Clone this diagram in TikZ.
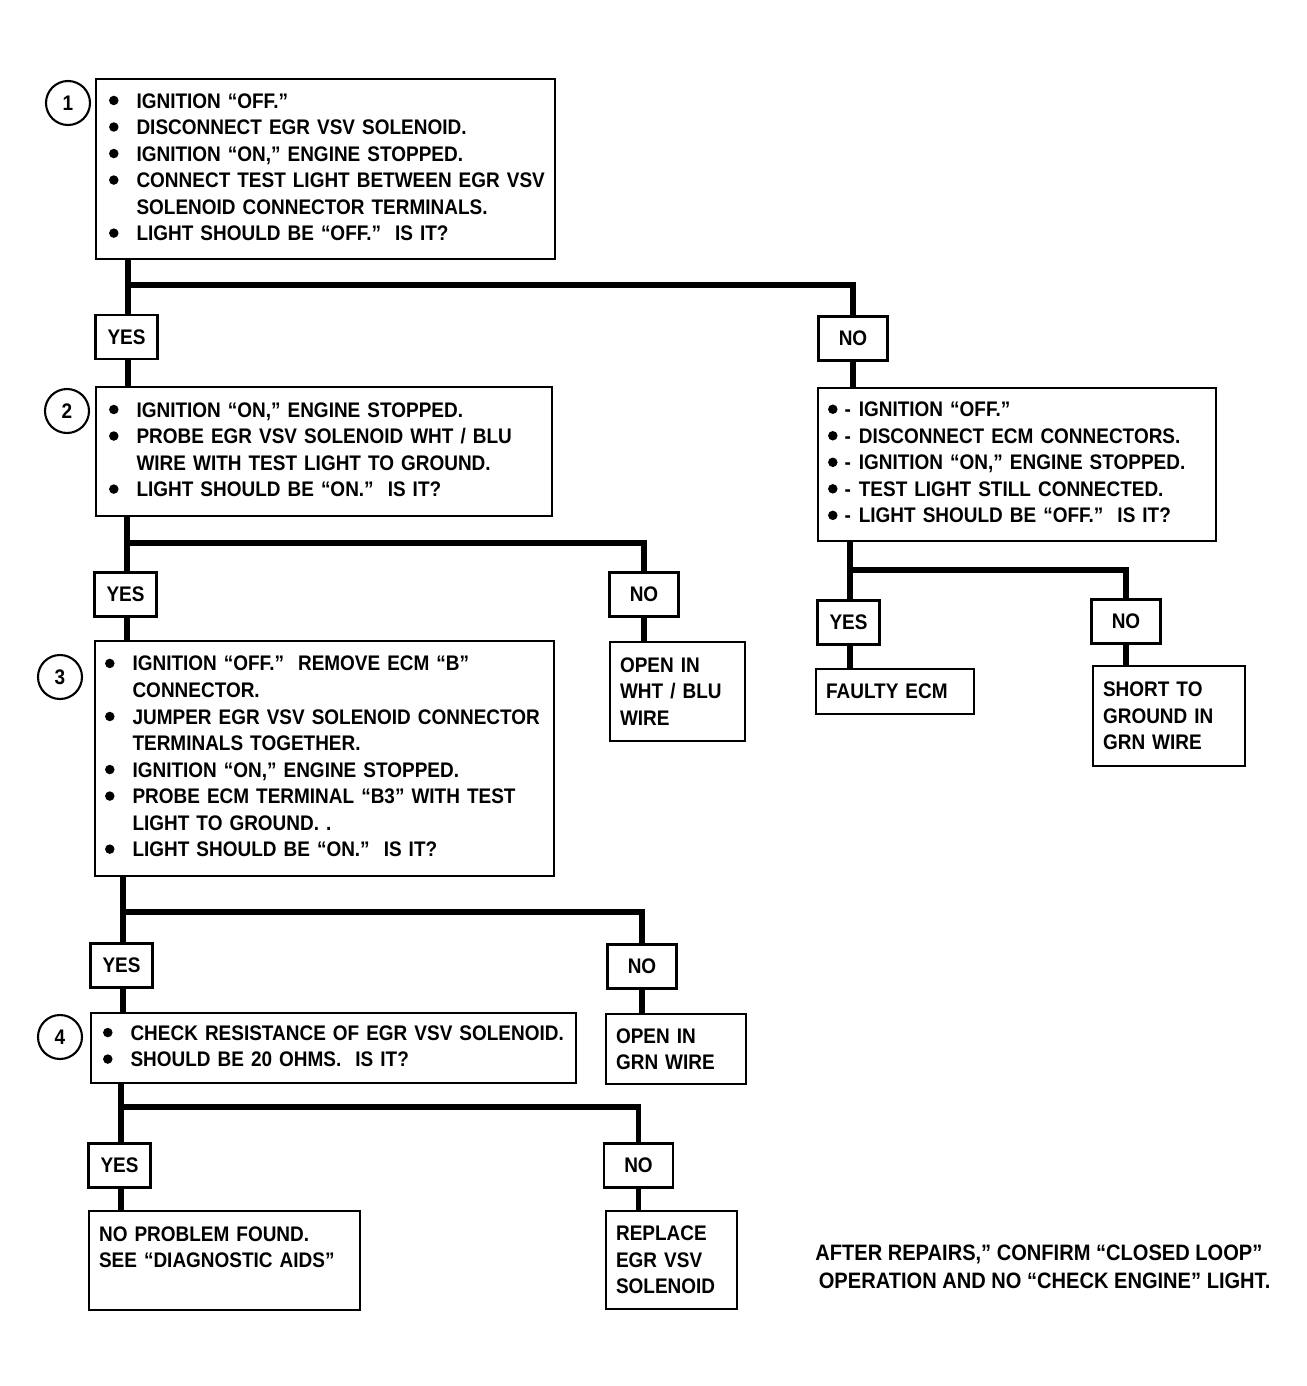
\documentclass[tikz,border=0pt]{standalone}
\usepackage{fontspec}
\setmainfont{Liberation Sans}[FakeStretch=0.9]
\usetikzlibrary{positioning}
\newcommand{\blt}{\tikz[baseline=0pt]\fill (0pt,4.3pt) circle (2.7pt);}

\begin{document}
\begin{tikzpicture}[
    x=0.02cm, y=-0.02cm,
    font=\bfseries\fontsize{12}{15.1}\selectfont,
    stepbox/.style={
		rectangle,
		draw=black,
		line width=1.2pt,
		anchor=north west,
		inner xsep=0.26cm,
		inner ysep=0pt,
		align=left
	},
	resultbox/.style={
		rectangle,
		draw=black,
		line width=1.2pt,
		anchor=north west,
		inner xsep=0.2cm,
		inner ysep=0pt,
		align=left
	},
	yesbox/.style={
		rectangle,
		draw=black,
		line width=1.2pt,
		minimum width=1.24cm,
		minimum height=0.88cm
	},
	nobox/.style={
		yesbox,
		minimum width=1.38cm
	},
	num/.style={
		circle,
		draw=black,
		line width=1.2pt,
		minimum size=0.88cm,
		inner sep=0pt
	},
	wire/.style={
		line width=3.2pt
	}
  ]
  \useasboundingbox (0,0) rectangle (1306,1386);

  % step boxes on the left
  \node [stepbox, text width=8.66cm, minimum height=3.6cm] (q1) at (95,78)
 {%
 \begin{tabular}{@{}l@{\hspace{0.36cm}}l@{}}
  \blt & IGNITION “OFF.”\\
  \blt & DISCONNECT EGR VSV SOLENOID.\\
  \blt & IGNITION “ON,” ENGINE STOPPED.\\
  \blt & CONNECT TEST LIGHT BETWEEN EGR VSV\\
       & SOLENOID CONNECTOR TERMINALS.\\
  \blt & LIGHT SHOULD BE “OFF.”\ \ IS IT?
 \end{tabular}
 };
  \node [num] (n1) at (68,103) {1};

  \node [stepbox, text width=8.6cm, minimum height=2.58cm] (q2) at (95,386)
 {%
 \begin{tabular}{@{}l@{\hspace{0.36cm}}l@{}}
  \blt & IGNITION “ON,” ENGINE STOPPED.\\
  \blt & PROBE EGR VSV SOLENOID WHT / BLU\\
       & WIRE WITH TEST LIGHT TO GROUND.\\
  \blt & LIGHT SHOULD BE “ON.”\ \ IS IT?
 \end{tabular}
 };
  \node [num] (n2) at (67,411) {2};

  \node [stepbox, text width=8.78cm, minimum height=4.7cm, inner xsep=0.2cm] (q3) at (94,640)
 {%
 \begin{tabular}{@{}l@{\hspace{0.36cm}}l@{}}
  \blt & IGNITION “OFF.”\ \ REMOVE ECM “B”\\
       & CONNECTOR.\\
  \blt & JUMPER EGR VSV SOLENOID CONNECTOR\\
       & TERMINALS TOGETHER.\\
  \blt & IGNITION “ON,” ENGINE STOPPED.\\
  \blt & PROBE ECM TERMINAL “B3” WITH TEST\\
       & LIGHT TO GROUND. .\\
  \blt & LIGHT SHOULD BE “ON.”\ \ IS IT?
 \end{tabular}
 };
  \node [num] (n3) at (60,677) {3};

  \node [stepbox, text width=9.22cm, minimum height=1.4cm, inner xsep=0.24cm] (q4) at (90,1012)
 {%
 \begin{tabular}{@{}l@{\hspace{0.36cm}}l@{}}
  \blt & CHECK RESISTANCE OF EGR VSV SOLENOID.\\
  \blt & SHOULD BE 20 OHMS.\ \ IS IT?
 \end{tabular}
 };
  \node [num] (n4) at (60,1037) {4};

  % step box on the right
  \node [stepbox, text width=7.56cm, minimum height=3.06cm, inner xsep=0.2cm] (qR) at (817,387)
 {%
 \begin{tabular}{@{}l@{\hspace{0.14cm}}l@{\hspace{0.16cm}}l@{}}
  \blt & - & IGNITION “OFF.”\\
  \blt & - & DISCONNECT ECM CONNECTORS.\\
  \blt & - & IGNITION “ON,” ENGINE STOPPED.\\
  \blt & - & TEST LIGHT STILL CONNECTED.\\
  \blt & - & LIGHT SHOULD BE “OFF.”\ \ IS IT?
 \end{tabular}
 };

  % answers
  \node [yesbox] (yesA) at (126.5,337) {YES};
  \node [nobox] (noA) at (853,338.5) {NO};
  \node [yesbox] (yesB) at (125.5,594.5) {YES};
  \node [nobox] (noB) at (644,594.5) {NO};
  \node [yesbox] (yesC) at (121.5,965.5) {YES};
  \node [nobox] (noC) at (642,966.5) {NO};
  \node [yesbox] (yesD) at (119.5,1165.5) {YES};
  \node [nobox] (noD) at (638.5,1165.5) {NO};
  \node [yesbox] (yesR) at (848.5,622.5) {YES};
  \node [nobox] (noR) at (1126,621.5) {NO};

  % results
  \node [resultbox, text width=2.3cm, minimum height=1.98cm] (openA) at (609,641)
 {OPEN IN\\ WHT / BLU\\ WIRE};
  \node [resultbox, text width=2.4cm, minimum height=1.4cm] (openB) at (605,1013)
 {OPEN IN\\ GRN WIRE};
  \node [resultbox, text width=2.76cm, minimum height=0.9cm] (faulty) at (815,668)
 {FAULTY ECM};
  \node [resultbox, text width=2.64cm, minimum height=2cm] (short) at (1092,665)
 {SHORT TO\\ GROUND IN\\ GRN WIRE};
  \node [resultbox, text width=5.02cm, minimum height=1.98cm] (noprob) at (88,1210)
 {NO PROBLEM FOUND.\\ SEE “DIAGNOSTIC AIDS”\\ \mbox{}};
  \node [resultbox, text width=2.22cm, minimum height=1.96cm] (replace) at (605,1210)
 {REPLACE\\ EGR VSV\\ SOLENOID};

  \node [anchor=north west, align=left, inner sep=0pt, font=\bfseries\fontsize{12.7}{15.6}\selectfont] (note) at (815,1245)
 {AFTER REPAIRS,” CONFIRM “CLOSED LOOP”\\ \hspace{2pt}OPERATION AND NO “CHECK ENGINE” LIGHT.};

  % connectors
  \coordinate (jA) at (128,285);
  \coordinate (jB) at (127,543);
  \coordinate (jC) at (123,912);
  \coordinate (jD) at (121,1107);
  \coordinate (jR) at (850,570);

  \draw [wire] (q1.south -| jA) -- (yesA.north -| jA);
  \draw [wire] (jA) -| (noA.north);
  \draw [wire] (yesA.south -| jA) -- (q2.north -| jA);
  \draw [wire] (noA.south) -- (noA.south |- qR.north);

  \draw [wire] (q2.south -| jB) -- (yesB.north -| jB);
  \draw [wire] (jB) -| (noB.north);
  \draw [wire] (yesB.south -| jB) -- (q3.north -| jB);
  \draw [wire] (noB.south) -- (noB.south |- openA.north);

  \draw [wire] (q3.south -| jC) -- (yesC.north -| jC);
  \draw [wire] (jC) -| (noC.north);
  \draw [wire] (yesC.south -| jC) -- (q4.north -| jC);
  \draw [wire] (noC.south) -- (noC.south |- openB.north);

  \draw [wire] (q4.south -| jD) -- (yesD.north -| jD);
  \draw [wire] (jD) -| (noD.north);
  \draw [wire] (yesD.south -| jD) -- (noprob.north -| jD);
  \draw [wire] (noD.south) -- (noD.south |- replace.north);

  \draw [wire] (qR.south -| jR) -- (yesR.north -| jR);
  \draw [wire] (jR) -| (noR.north);
  \draw [wire] (yesR.south -| jR) -- (faulty.north -| jR);
  \draw [wire] (noR.south) -- (noR.south |- short.north);

\end{tikzpicture}
\end{document}
